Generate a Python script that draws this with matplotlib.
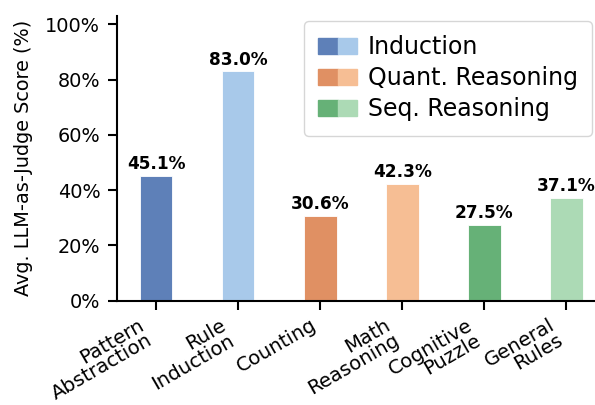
import matplotlib
matplotlib.use('Agg')
import matplotlib.pyplot as plt
from matplotlib.patches import Patch
from matplotlib.legend_handler import HandlerTuple
from matplotlib.ticker import FuncFormatter

# data
categories = ['Pattern\nAbstraction', 'Rule\nInduction', 'Counting',
              'Math\nReasoning', 'Cognitive\nPuzzle', 'General\nRules']
scores = [45.1, 83.0, 30.6, 42.3, 27.5, 37.1]
groups = ['Induction', 'Quant. Reasoning', 'Seq. Reasoning']
dark_colors = ['#5e80b8', '#e09063', '#66b177']
light_colors = ['#a8c9ea', '#f6be94', '#acdab5']

bar_colors = []
for d, l in zip(dark_colors, light_colors):
    bar_colors += [d, l]

fig = plt.figure(figsize=(5.95, 4.05), dpi=100)
ax = fig.add_axes([0.196, 0.2575, 0.804, 0.703])

x = list(range(len(categories)))
ax.bar(x, scores, width=0.4, color=bar_colors, edgecolor='white', linewidth=0.6)

for xi, s in zip(x, scores):
    ax.text(xi, s + 1.0, f'{s:.1f}%', ha='center', va='bottom',
            fontsize=12.2, fontweight='bold')

ax.set_xlim(-0.48, 5.35)
ax.set_ylim(0, 103)
ax.set_yticks([0, 20, 40, 60, 80, 100])
ax.yaxis.set_major_formatter(FuncFormatter(lambda v, p: f'{v:.0f}%'))
ax.set_xticks(x)
ax.set_xticklabels(categories, rotation=30, ha='right', fontsize=14.2,
                   linespacing=0.9)
ax.tick_params(axis='y', labelsize=13.9, length=6.7, width=1.5, pad=5)
ax.tick_params(axis='x', length=6.7, width=1.5, pad=4)
ax.set_ylabel('Avg. LLM-as-Judge Score (%)', fontsize=13.9, labelpad=9)

for side in ['top', 'right']:
    ax.spines[side].set_visible(False)
for side in ['left', 'bottom']:
    ax.spines[side].set_linewidth(1.5)

handles = [(Patch(color=d), Patch(color=l)) for d, l in zip(dark_colors, light_colors)]
ax.legend(handles, groups, handler_map={tuple: HandlerTuple(ndivide=None, pad=0)},
          loc='upper right', bbox_to_anchor=(592 / 595, 1 - 21 / 405),
          bbox_transform=fig.transFigure, borderaxespad=0,
          fontsize=17, handlelength=1.65, borderpad=0.6,
          labelspacing=0.3, handletextpad=0.45)

fig.savefig('out.png', dpi=100)
